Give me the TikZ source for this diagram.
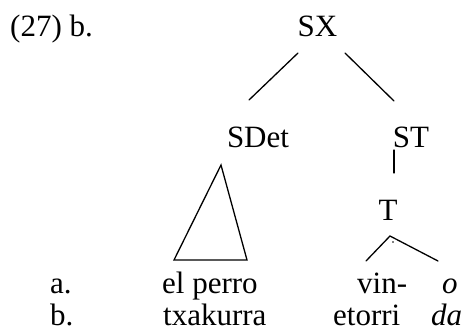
\documentclass[tikz,border=0pt]{standalone}
\usepackage{fontspec}
\setmainfont{Liberation Serif}
\begin{document}
\begin{tikzpicture}[x=1pt,y=-1pt,
  lbl/.style={inner sep=0pt,font=\fontsize{31}{31}\selectfont},
  edge/.style={line width=1.3pt,line cap=round,line join=miter}]
\useasboundingbox (0,0) rectangle (467,332);
% labels
\node[lbl,anchor=base west] (ex) at (10,36) {(27) b.};
\node[lbl,anchor=base] (sx) at (317.5,36) {SX};
\node[lbl,anchor=base] (sdet) at (258,147) {SDet};
\node[lbl,anchor=base] (st) at (411,147) {ST};
\node[lbl,anchor=base] (t) at (388,220) {T};
\node[lbl,anchor=base west] (ra) at (50,293) {a.};
\node[lbl,anchor=base west] (perro) at (162,293) {el perro};
\node[lbl,anchor=base west] (vin) at (357,293) {vin-};
\node[lbl,anchor=base west] (o) at (442,293) {\itshape o};
\node[lbl,anchor=base west] (rb) at (50,325) {b.};
\node[lbl,anchor=base west] (txak) at (163,325) {txakurra};
\node[lbl,anchor=base west] (etorri) at (333,325) {etorri};
\node[lbl,anchor=base west] (da) at (431,325) {\itshape da};
% connector end points
\coordinate (sxL) at (298,53);
\coordinate (sxR) at (345,53);
\coordinate (sdetTop) at (249,100);
\coordinate (stTop) at (394,101);
\coordinate (stBot) at (394,150);
\coordinate (tTop) at (394,173);
\coordinate (triA) at (221,165);
\coordinate (triL) at (174,260);
\coordinate (triR) at (247,260);
\coordinate (tApex) at (390,236);
\coordinate (vinTop) at (366,261);
\coordinate (oTop) at (438,261);
% edges
\draw[edge] (sxL) -- (sdetTop);
\draw[edge] (sxR) -- (stTop);
\draw[edge] (stBot) -- (tTop);
\draw[edge] (triA) -- (triL) -- (triR) -- cycle;
\draw[edge] (vinTop) -- (tApex) -- (oTop);
\fill (393,242) circle (0.8pt);
\end{tikzpicture}
\end{document}
